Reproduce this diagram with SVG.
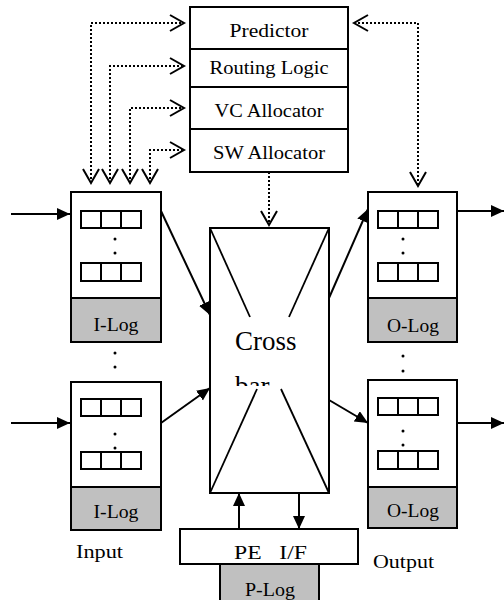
<svg xmlns="http://www.w3.org/2000/svg" width="504" height="600" viewBox="0 0 504 600">
<style>
.box{fill:#fff;stroke:#000;stroke-width:2}
.log{fill:#c0c0c0;stroke:#000;stroke-width:2}
.q{fill:#fff;stroke:#000;stroke-width:2}
.t{font-family:"Liberation Serif","Times New Roman",serif;font-size:18px;fill:#000}
.c{text-anchor:middle}
.dot{stroke:#000;stroke-width:2;stroke-dasharray:2,2;fill:none}
.sol{stroke:#000;stroke-width:2;fill:none}
.thin{stroke:#000;stroke-width:1.8;fill:none}
</style>
<defs>
<marker id="open" markerUnits="userSpaceOnUse" markerWidth="20" markerHeight="20" refX="15" refY="9" orient="auto-start-reverse" viewBox="0 0 20 20">
<path d="M1,1 L15,9 L1,17" fill="none" stroke="#000" stroke-width="2"/>
</marker>
<marker id="fill" markerUnits="userSpaceOnUse" markerWidth="14" markerHeight="14" refX="13" refY="6" orient="auto" viewBox="0 0 14 14">
<path d="M0,0 L13,6 L0,12 Z" fill="#000"/>
</marker>
<clipPath id="barclip"><rect x="210" y="330" width="119" height="56"/></clipPath>
</defs>

<g id="control">
<rect class="box" x="190" y="7" width="158" height="165"/>
<line class="sol" x1="190" y1="49" x2="348" y2="49"/>
<line class="sol" x1="190" y1="87" x2="348" y2="87"/>
<line class="sol" x1="190" y1="129" x2="348" y2="129"/>
<text class="t c" x="269" y="37" textLength="79" lengthAdjust="spacingAndGlyphs">Predictor</text>
<text class="t c" x="269" y="74" textLength="119" lengthAdjust="spacingAndGlyphs">Routing Logic</text>
<text class="t c" x="269" y="117" textLength="109" lengthAdjust="spacingAndGlyphs">VC Allocator</text>
<text class="t c" x="269" y="159" textLength="112" lengthAdjust="spacingAndGlyphs">SW Allocator</text>
</g>

<g id="input1">
<rect class="box" x="71" y="192" width="90" height="106"/>
<rect class="log" x="71" y="298" width="90" height="44"/>
<rect class="q" x="81" y="211" width="60" height="17"/>
<line class="sol" x1="101" y1="211" x2="101" y2="228"/><line class="sol" x1="121" y1="211" x2="121" y2="228"/>
<rect class="q" x="81" y="263" width="60" height="18"/>
<line class="sol" x1="101" y1="263" x2="101" y2="281"/><line class="sol" x1="121" y1="263" x2="121" y2="281"/>
<circle cx="115" cy="239" r="1.5"/><circle cx="115" cy="253" r="1.5"/>
<text class="t c" x="116" y="331" textLength="45" lengthAdjust="spacingAndGlyphs">I-Log</text>
</g>
<g id="input-dots"><circle cx="115" cy="353" r="1.5"/><circle cx="115" cy="367" r="1.5"/></g>
<g id="input2">
<rect class="box" x="71" y="382" width="90" height="105"/>
<rect class="log" x="71" y="487" width="90" height="43"/>
<rect class="q" x="81" y="399" width="60" height="17"/>
<line class="sol" x1="101" y1="399" x2="101" y2="416"/><line class="sol" x1="121" y1="399" x2="121" y2="416"/>
<rect class="q" x="81" y="452" width="60" height="17"/>
<line class="sol" x1="101" y1="452" x2="101" y2="469"/><line class="sol" x1="121" y1="452" x2="121" y2="469"/>
<circle cx="115" cy="434" r="1.5"/><circle cx="115" cy="448" r="1.5"/>
<text class="t c" x="116" y="518" textLength="45" lengthAdjust="spacingAndGlyphs">I-Log</text>
</g>
<text class="t" x="76" y="558" textLength="47" lengthAdjust="spacingAndGlyphs">Input</text>

<g id="output1">
<rect class="box" x="368" y="192" width="89" height="106"/>
<rect class="log" x="368" y="298" width="89" height="44"/>
<rect class="q" x="378" y="211" width="60" height="17"/>
<line class="sol" x1="398" y1="211" x2="398" y2="228"/><line class="sol" x1="418" y1="211" x2="418" y2="228"/>
<rect class="q" x="378" y="263" width="60" height="18"/>
<line class="sol" x1="398" y1="263" x2="398" y2="281"/><line class="sol" x1="418" y1="263" x2="418" y2="281"/>
<circle cx="403" cy="239" r="1.5"/><circle cx="403" cy="253" r="1.5"/>
<text class="t c" x="413" y="332" textLength="52" lengthAdjust="spacingAndGlyphs">O-Log</text>
</g>
<g id="output-dots"><circle cx="403" cy="356" r="1.5"/><circle cx="403" cy="371" r="1.5"/></g>
<g id="output2">
<rect class="box" x="368" y="380" width="89" height="107"/>
<rect class="log" x="368" y="487" width="89" height="41"/>
<rect class="q" x="378" y="398" width="60" height="17"/>
<line class="sol" x1="398" y1="398" x2="398" y2="415"/><line class="sol" x1="418" y1="398" x2="418" y2="415"/>
<rect class="q" x="378" y="451" width="60" height="18"/>
<line class="sol" x1="398" y1="451" x2="398" y2="469"/><line class="sol" x1="418" y1="451" x2="418" y2="469"/>
<circle cx="403" cy="431" r="1.5"/><circle cx="403" cy="445" r="1.5"/>
<text class="t c" x="413" y="517" textLength="52" lengthAdjust="spacingAndGlyphs">O-Log</text>
</g>
<text class="t" x="373" y="568" textLength="61" lengthAdjust="spacingAndGlyphs">Output</text>

<g id="crossbar">
<rect class="box" x="210" y="228" width="119" height="265"/>
<line class="thin" x1="210" y1="228" x2="250" y2="317"/>
<line class="thin" x1="329" y1="228" x2="289" y2="317"/>
<line class="thin" x1="210" y1="493" x2="257" y2="389"/>
<line class="thin" x1="329" y1="493" x2="281" y2="389"/>
<text x="235" y="350" font-family="Liberation Serif, serif" font-size="27">Cross</text>
<text x="235" y="395" font-family="Liberation Serif, serif" font-size="27" clip-path="url(#barclip)">bar</text>
</g>

<g id="pe">
<rect class="box" x="180" y="529" width="178" height="35"/>
<text class="t" x="234" y="559" textLength="73" lengthAdjust="spacingAndGlyphs" xml:space="preserve">PE   I/F</text>
</g>
<g id="plog">
<rect class="log" x="220" y="564" width="99" height="40"/>
<text class="t c" x="270" y="596" textLength="50" lengthAdjust="spacingAndGlyphs">P-Log</text>
</g>

<g id="connectors">
<path class="dot" d="M91,183 V23 H184" marker-start="url(#open)" marker-end="url(#open)"/>
<path class="dot" d="M110,183 V66 H184" marker-start="url(#open)" marker-end="url(#open)"/>
<path class="dot" d="M130,183 V108 H184" marker-start="url(#open)" marker-end="url(#open)"/>
<path class="dot" d="M150,183 V150 H184" marker-start="url(#open)" marker-end="url(#open)"/>
<path class="dot" d="M354,23 H418 V186" marker-start="url(#open)" marker-end="url(#open)"/>
<path class="dot" d="M269,172 V225" marker-end="url(#open)"/>
<line class="sol" x1="11" y1="214" x2="70" y2="214" marker-end="url(#fill)"/>
<line class="sol" x1="11" y1="423" x2="70" y2="423" marker-end="url(#fill)"/>
<line class="sol" x1="161" y1="211" x2="210" y2="315" marker-end="url(#fill)"/>
<line class="sol" x1="161" y1="423" x2="210" y2="388" marker-end="url(#fill)"/>
<line class="sol" x1="329" y1="298" x2="368" y2="209" marker-end="url(#fill)"/>
<line class="sol" x1="329" y1="400" x2="368" y2="423" marker-end="url(#fill)"/>
<line class="sol" x1="457" y1="211" x2="504" y2="211" marker-end="url(#fill)"/>
<line class="sol" x1="457" y1="423" x2="504" y2="423" marker-end="url(#fill)"/>
<line class="sol" x1="239" y1="529" x2="239" y2="493" marker-end="url(#fill)"/>
<line class="sol" x1="299" y1="493" x2="299" y2="529" marker-end="url(#fill)"/>
</g>
</svg>
